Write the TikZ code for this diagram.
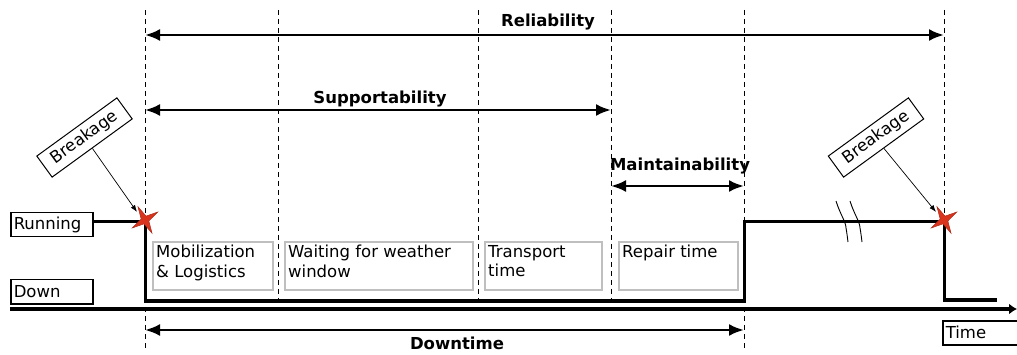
\documentclass[tikz,border=0pt]{standalone}
\usepackage{fontspec}
\setmainfont{DejaVu Sans}
\usetikzlibrary{arrows,arrows.meta,positioning,calc}
\definecolor{breakred}{RGB}{216,52,30}
\tikzstyle{statebox}=[draw,line width=1.5pt,anchor=north west,minimum width=82pt,minimum height=24pt,inner sep=3pt,text width=76pt,align=left,font=\fontsize{16.5}{18}\selectfont]
\tikzstyle{phasebox}=[draw=black!25,line width=2pt,anchor=north west,minimum height=48pt,inner sep=0pt]
\tikzstyle{phasetext}=[anchor=north west,align=left,inner sep=4pt,font=\fontsize{16.5}{19.5}\selectfont]
\tikzstyle{span}=[line width=2.6pt,{Latex[length=15pt,width=12pt]}-{Latex[length=15pt,width=12pt]}]
\tikzstyle{spanlabel}=[font=\bfseries\fontsize{16.5}{18}\selectfont,inner sep=0pt]
\tikzstyle{marker}=[line width=0.9pt,dash pattern=on 5pt off 4pt]
\tikzstyle{breakage}=[draw,line width=1pt,rotate=36,inner sep=0pt,minimum width=99pt,minimum height=26pt,font=\fontsize{16.5}{18}\selectfont]
\tikzstyle{failure}=[fill=breakred,draw=breakred!80!black,line width=0.5pt]

\begin{document}
\begin{tikzpicture}[x=1pt,y=-1pt]
\useasboundingbox (0,0) rectangle (1017,355);

% time markers
\draw[marker] (145,10) -- (145,348);
\draw[marker] (278,10) -- (278,301);
\draw[marker] (478,10) -- (478,301);
\draw[marker] (611,10) -- (611,301);
\draw[marker] (744,10) -- (744,348);
\draw[marker] (944,10) -- (944,220);

% spans
\draw[span] (145,35) coordinate (r0) -- (944,35) coordinate (r1);
\node[spanlabel] (rel) at (548,22) {Reliability};
\draw[span] (145,110) coordinate (s0) -- (611,110) coordinate (s1);
\node[spanlabel] (sup) at (380,99) {Supportability};
\draw[span] (611,186) coordinate (a0) -- (744,186) coordinate (a1);
\node[spanlabel] (mai) at (680,166) {Maintainability};
\draw[span] (145,330) coordinate (d0) -- (744,330) coordinate (d1);
\node[spanlabel] (dow) at (457,343) {Downtime};

% state labels
\node[statebox] (run) at (10,212) {Running};
\node[statebox] (down) at (10,279) {Down};
\node[statebox,minimum width=75pt,text width=69pt] (time) at (942,320) {Time};

% time axis
\draw[line width=4pt,-{Latex[length=8pt,width=11pt]}] (10,309) -- (1017,309);

% state line
\draw[line width=3pt,line join=miter] (run.east |- 0,222) -- (145,222) -- (145,301) -- (744,301) -- (744,222) -- (944,222) -- (944,300) -- (997,300);

% break in time
\draw[line width=0.9pt] (836,201) .. controls (840,214) and (846,222) .. (846,228) .. controls (847,234) .. (848,242);
\draw[line width=0.9pt] (850,201) .. controls (854,214) and (860,222) .. (860,228) .. controls (861,234) .. (862,242);

% phases
\node[phasebox,minimum width=120pt] (mob) at (152,241) {};
\node[phasetext] at (mob.north west) {Mobilization\\\& Logistics};
\node[phasebox,minimum width=188pt] (wait) at (284,241) {};
\node[phasetext] at (wait.north west) {Waiting for weather\\window};
\node[phasebox,minimum width=117pt] (trans) at (484,241) {};
\node[phasetext] at (trans.north west) {Transport\\time};
\node[phasebox,minimum width=119pt] (rep) at (618,241) {};
\node[phasetext] at (rep.north west) {Repair time};

% failures
\coordinate (f0) at (145,220);
\coordinate (f1) at (944,220);
\foreach \f in {f0,f1}
  \filldraw[failure] ($(\f)+(62:15)$) -- ($(\f)+(105:4)$) -- ($(\f)+(148:15)$) -- ($(\f)+(195:4)$)
    -- ($(\f)+(242:15)$) -- ($(\f)+(285:4)$) -- ($(\f)+(328:15)$) -- ($(\f)+(15:4)$) -- cycle;
\node[breakage] (b0) at (84.5,137.5) {Breakage};
\node[breakage] (b1) at (876,137.5) {Breakage};
\draw[-{Latex[length=7pt,width=5pt]},line width=0.7pt] (b0.south) -- ($(f0)+(-8,-8)$);
\draw[-{Latex[length=7pt,width=5pt]},line width=0.7pt] (b1.south) -- ($(f1)+(-8,-8)$);
\end{tikzpicture}
\end{document}
